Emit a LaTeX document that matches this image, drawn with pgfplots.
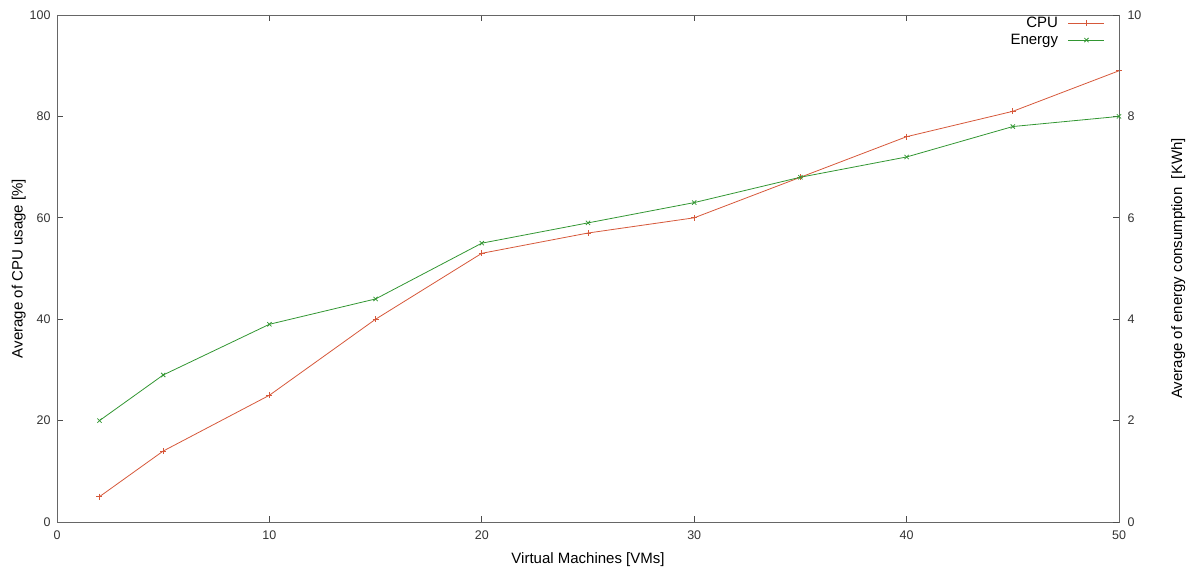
\documentclass[border=0pt]{standalone}
\usepackage{pgfplots}
\pgfplotsset{compat=1.18}
\usepackage{fontspec}
\setmainfont{Liberation Sans}
\definecolor{cpuc}{RGB}{214,88,58}
\definecolor{enc}{RGB}{50,150,50}
\begin{document}
\begin{tikzpicture}
\pgfplotsset{
  every axis/.append style={
    scale only axis, width=1062pt, height=507pt,
    xmin=0, xmax=50,
    tick label style={font=\fontsize{12.5}{14}\selectfont, text=black!80},
    label style={font=\fontsize{15}{18}\selectfont},
    /pgf/number format/assume math mode=true,
    tick align=inside,
    major tick length=6pt,
    axis line style={black!60, line width=0.9pt},
    every tick/.style={black!70, line width=0.8pt},
  }
}
\begin{axis}[
  ymin=0, ymax=100,
  xtick={0,10,20,30,40,50},
  ytick={0,20,40,60,80,100},
  ytick pos=left,
  xtick pos=both,
  xticklabel style={yshift=-5pt},
  yticklabel style={xshift=-3pt},
  xlabel={Virtual Machines [VMs]},
  ylabel={Average of CPU usage [\%]},
  xlabel style={yshift=-6pt},
  ylabel style={yshift=-3pt},
]
\addplot[color=cpuc, line width=0.8pt, mark=+, mark size=3pt] coordinates {
(2,5) (5,14) (10,25) (15,40) (20,53) (25,57) (30,60) (35,68) (40,76) (45,81) (50,89)
};
\end{axis}
\begin{axis}[
  ymin=0, ymax=10,
  axis x line=none,
  axis y line*=right,
  ytick={0,2,4,6,8,10},
  yticklabel style={xshift=5pt},
  ylabel={Average of energy consumption~~[KWh]},
  ylabel style={yshift=-23pt},
  legend style={at={(0.985,1.0)}, anchor=north east, xshift=5pt, yshift=2pt,
    draw=none, fill=none,
    font=\fontsize{15}{16}\selectfont, row sep=1pt,
    nodes={inner xsep=5pt},
    /tikz/every odd column/.append style={column sep=5pt}},
  legend cell align=right,
  legend plot pos=right,
  legend image code/.code={\draw[mark repeat=2,mark phase=2] plot coordinates {(0pt,0pt) (18pt,0pt) (36pt,0pt)};},
]
\addlegendimage{color=cpuc, line width=0.8pt, mark=+, mark size=3pt}
\addlegendentry{CPU}
\addplot[color=enc, line width=0.8pt, mark=x, mark size=3pt] coordinates {
(2,2.0) (5,2.9) (10,3.9) (15,4.4) (20,5.5) (25,5.9) (30,6.3) (35,6.8) (40,7.2) (45,7.8) (50,8.0)
};
\addlegendentry{Energy}
\end{axis}
\path (current axis.south west) ++(-57pt,-50pt) coordinate (bl);
\path (current axis.north east) ++(70pt,15pt) coordinate (tr);
\pgfresetboundingbox
\useasboundingbox (bl) rectangle (tr);
\end{tikzpicture}
\end{document}
